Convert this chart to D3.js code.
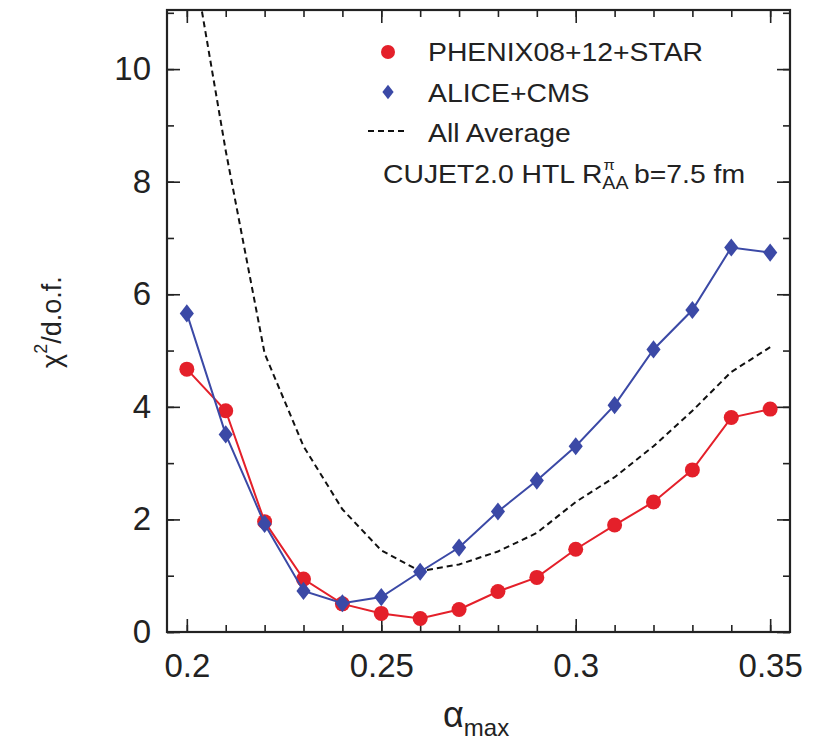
<!DOCTYPE html>
<html>
<head>
<meta charset="utf-8">
<script src="https://cdn.jsdelivr.net/npm/d3@7"></script>
<style>
  body { margin: 0; background: #fff; }
  svg { display: block; }
  text { font-family: "Liberation Sans", Arial, Helvetica, sans-serif; fill: #222; }
</style>
</head>
<body>
<svg id="chart" width="819" height="745"></svg>
<script>
// ---- data ----
const alphaMax = [0.20, 0.21, 0.22, 0.23, 0.24, 0.25, 0.26, 0.27, 0.28, 0.29, 0.30, 0.31, 0.32, 0.33, 0.34, 0.35];
const phenixStar = [4.67, 3.93, 1.96, 0.94, 0.50, 0.33, 0.24, 0.40, 0.72, 0.97, 1.47, 1.90, 2.31, 2.88, 3.81, 3.96];
const aliceCms   = [5.66, 3.51, 1.92, 0.73, 0.51, 0.62, 1.07, 1.50, 2.14, 2.69, 3.30, 4.03, 5.02, 5.72, 6.83, 6.74];
const allAverage = [12.6, 8.55, 4.95, 3.30, 2.18, 1.45, 1.08, 1.20, 1.43, 1.76, 2.31, 2.75, 3.30, 3.93, 4.62, 5.06];
const xMajorTicks = [0.20, 0.25, 0.30, 0.35];
const xTickLabels = ["0.2", "0.25", "0.3", "0.35"];
const xMinorTicks = [0.20,0.21,0.22,0.23,0.24,0.25,0.26,0.27,0.28,0.29,0.30,0.31,0.32,0.33,0.34,0.35];
const yMajorTicks = [0, 2, 4, 6, 8, 10];
const yMinorTicks = [0,1,2,3,4,5,6,7,8,9,10,11];
const legendLabels = ["PHENIX08+12+STAR", "ALICE+CMS", "All Average"];

// ---- layout ----
const L = 167, R = 790, T = 10, B = 632;
const svg = d3.select("#chart");
const x = d3.scaleLinear().domain([0.1949, 0.3551]).range([L, R]);
const y = d3.scaleLinear().domain([0, 11.05]).range([B, T]);
const RED = "#e4202a", BLUE = "#3b49a6";

svg.append("defs").append("clipPath").attr("id", "clip")
  .append("rect").attr("x", L).attr("y", T).attr("width", R - L).attr("height", B - T);

// ---- axes (inward ticks on all four sides) ----
function styleAxis(g) {
  g.select(".domain").remove();
  g.selectAll(".tick line").attr("stroke", "#222").attr("stroke-width", 1.6);
}
const tickFont = 33;
// bottom
svg.append("g").attr("transform", `translate(0,${B})`)
  .call(d3.axisBottom(x).tickValues(xMinorTicks).tickSize(-7).tickFormat(""))
  .call(styleAxis);
const gxB = svg.append("g").attr("transform", `translate(0,${B})`)
  .call(d3.axisBottom(x).tickValues(xMajorTicks).tickSize(-13)
        .tickFormat((d, i) => xTickLabels[i]).tickPadding(22))
  .call(styleAxis);
gxB.selectAll("text").attr("font-size", tickFont).attr("fill", "#222")
  .attr("font-family", "Liberation Sans, Arial, sans-serif");
// top
svg.append("g").attr("transform", `translate(0,${T})`)
  .call(d3.axisTop(x).tickValues(xMinorTicks).tickSize(-7).tickFormat(""))
  .call(styleAxis);
svg.append("g").attr("transform", `translate(0,${T})`)
  .call(d3.axisTop(x).tickValues(xMajorTicks).tickSize(-13).tickFormat(""))
  .call(styleAxis);
// left
svg.append("g").attr("transform", `translate(${L},0)`)
  .call(d3.axisLeft(y).tickValues(yMinorTicks).tickSize(-7).tickFormat(""))
  .call(styleAxis);
const gyL = svg.append("g").attr("transform", `translate(${L},0)`)
  .call(d3.axisLeft(y).tickValues(yMajorTicks).tickSize(-13).tickFormat(d3.format("d")).tickPadding(16))
  .call(styleAxis);
gyL.selectAll("text").attr("font-size", tickFont).attr("fill", "#222")
  .attr("font-family", "Liberation Sans, Arial, sans-serif");
// right
svg.append("g").attr("transform", `translate(${R},0)`)
  .call(d3.axisRight(y).tickValues(yMinorTicks).tickSize(-7).tickFormat(""))
  .call(styleAxis);
svg.append("g").attr("transform", `translate(${R},0)`)
  .call(d3.axisRight(y).tickValues(yMajorTicks).tickSize(-13).tickFormat(""))
  .call(styleAxis);

// ---- series ----
const pts = (vals) => alphaMax.map((a, i) => [a, vals[i]]);
const line = d3.line().x(d => x(d[0])).y(d => y(d[1]));
const plot = svg.append("g").attr("clip-path", "url(#clip)");

plot.append("path").datum(pts(allAverage)).attr("d", line)
  .attr("fill", "none").attr("stroke", "#111").attr("stroke-width", 2)
  .attr("stroke-dasharray", "6,4");

plot.append("path").datum(pts(phenixStar)).attr("d", line)
  .attr("fill", "none").attr("stroke", RED).attr("stroke-width", 2);
plot.selectAll("circle.red").data(pts(phenixStar)).enter().append("circle")
  .attr("cx", d => x(d[0])).attr("cy", d => y(d[1])).attr("r", 7.5).attr("fill", RED);

plot.append("path").datum(pts(aliceCms)).attr("d", line)
  .attr("fill", "none").attr("stroke", BLUE).attr("stroke-width", 2);
const diamond = d3.symbol().type(d3.symbolDiamond).size(95);
plot.selectAll("path.blue").data(pts(aliceCms)).enter().append("path")
  .attr("transform", d => `translate(${x(d[0])},${y(d[1])}) scale(1.35,1)`)
  .attr("d", diamond).attr("fill", BLUE);

// frame
svg.append("rect").attr("x", L).attr("y", T).attr("width", R - L).attr("height", B - T)
  .attr("fill", "none").attr("stroke", "#222").attr("stroke-width", 2.2);

// ---- legend ----
const lf = 26, sx = 1.09;
const lg = svg.append("g");
lg.append("circle").attr("cx", 388).attr("cy", 52).attr("r", 7).attr("fill", RED);
lg.append("path").attr("transform", "translate(388,92) scale(1.35,1)")
  .attr("d", d3.symbol().type(d3.symbolDiamond).size(60)).attr("fill", BLUE);
lg.append("line").attr("x1", 368).attr("x2", 407).attr("y1", 131).attr("y2", 131)
  .attr("stroke", "#111").attr("stroke-width", 2).attr("stroke-dasharray", "6,4");
const rowsY = [61, 102, 142];
legendLabels.forEach((t, i) => {
  lg.append("text").attr("transform", `translate(428,${rowsY[i]}) scale(${sx},1)`)
    .attr("font-size", lf).text(t);
});
// CUJET annotation with stacked super/subscript
const cx0 = 383, cy0 = 183;
const cg = lg.append("g").attr("transform", `translate(${cx0},${cy0}) scale(${sx},1)`);
const t1 = cg.append("text").attr("x", 0).attr("y", 0).attr("font-size", lf).text("CUJET2.0 HTL R");
const w1 = t1.node().getComputedTextLength();
cg.append("text").attr("x", w1 + 1).attr("y", -13).attr("font-size", 15).text("π");
const t3 = cg.append("text").attr("x", w1).attr("y", 6).attr("font-size", 18).text("AA");
const w3 = t3.node().getComputedTextLength();
cg.append("text").attr("x", w1 + w3 + 5).attr("y", 0).attr("font-size", lf).text("b=7.5 fm");

// ---- axis titles ----
const yt = svg.append("text").attr("transform", "translate(61,322) rotate(-90)")
  .attr("text-anchor", "middle").attr("font-size", 27);
yt.append("tspan").text("χ");
yt.append("tspan").attr("font-size", 18).attr("dy", -14).text("2");
yt.append("tspan").attr("dy", 14).text("/d.o.f.");

const xt = svg.append("text").attr("x", 443).attr("y", 727).attr("font-size", 36);
xt.append("tspan").text("α");
xt.append("tspan").attr("font-size", 24).attr("dy", 9).text("max");
</script>
</body>
</html>
